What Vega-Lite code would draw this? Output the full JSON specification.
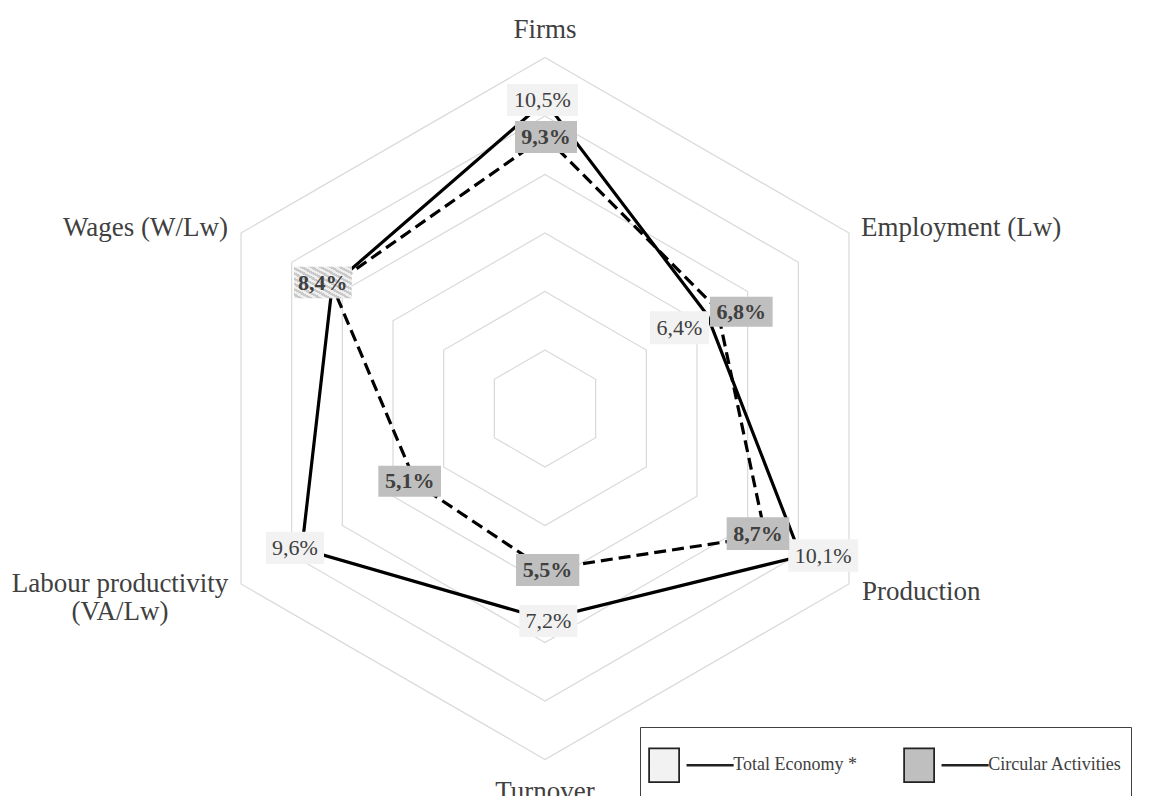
{
  "$schema": "https://vega.github.io/schema/vega-lite/v6.json",
  "width": 1151,
  "height": 796,
  "autosize": {"type": "none"},
  "padding": 0,
  "background": "#ffffff",
  "config": {"view": {"stroke": null}, "font": "Liberation Serif"},
  "datasets": {
    "profile": [
      {"axis": "Firms", "series": "Total Economy *", "value": 10.5},
      {"axis": "Employment (Lw)", "series": "Total Economy *", "value": 6.4},
      {"axis": "Production", "series": "Total Economy *", "value": 10.1},
      {"axis": "Turnover", "series": "Total Economy *", "value": 7.2},
      {"axis": "Labour productivity\n(VA/Lw)", "series": "Total Economy *", "value": 9.6},
      {"axis": "Wages (W/Lw)", "series": "Total Economy *", "value": 8.4},
      {"axis": "Firms", "series": "Circular Activities", "value": 9.3},
      {"axis": "Employment (Lw)", "series": "Circular Activities", "value": 6.8},
      {"axis": "Production", "series": "Circular Activities", "value": 8.7},
      {"axis": "Turnover", "series": "Circular Activities", "value": 5.5},
      {"axis": "Labour productivity\n(VA/Lw)", "series": "Circular Activities", "value": 5.1},
      {"axis": "Wages (W/Lw)", "series": "Circular Activities", "value": 8.4}
    ],
    "rings": [
      {"value": 2, "axis": ["Firms", "Employment (Lw)", "Production", "Turnover", "Labour productivity\n(VA/Lw)", "Wages (W/Lw)"]},
      {"value": 4, "axis": ["Firms", "Employment (Lw)", "Production", "Turnover", "Labour productivity\n(VA/Lw)", "Wages (W/Lw)"]},
      {"value": 6, "axis": ["Firms", "Employment (Lw)", "Production", "Turnover", "Labour productivity\n(VA/Lw)", "Wages (W/Lw)"]},
      {"value": 8, "axis": ["Firms", "Employment (Lw)", "Production", "Turnover", "Labour productivity\n(VA/Lw)", "Wages (W/Lw)"]},
      {"value": 10, "axis": ["Firms", "Employment (Lw)", "Production", "Turnover", "Labour productivity\n(VA/Lw)", "Wages (W/Lw)"]},
      {"value": 12, "axis": ["Firms", "Employment (Lw)", "Production", "Turnover", "Labour productivity\n(VA/Lw)", "Wages (W/Lw)"]}
    ]
  },
  "data": {"name": "profile"},
  "transform": [
    {"calculate": "indexof(['Firms','Employment (Lw)','Production','Turnover','Labour productivity\\n(VA/Lw)','Wages (W/Lw)'], datum.axis)", "as": "idx"},
    {"calculate": "datum.value * sin(datum.idx * PI / 3)", "as": "x"},
    {"calculate": "datum.value * cos(datum.idx * PI / 3)", "as": "y"},
    {"calculate": "replace(format(datum.value, '.1f'), '.', ',') + '%'", "as": "label"}
  ],
  "encoding": {
    "x": {"field": "x", "type": "quantitative", "scale": {"domain": [-18.632, 20.718], "nice": false, "zero": false}, "axis": null},
    "y": {"field": "y", "type": "quantitative", "scale": {"domain": [-13.248, 13.966], "nice": false, "zero": false}, "axis": null}
  },
  "layer": [
    {
      "data": {"name": "rings"},
      "transform": [
        {"flatten": ["axis"]},
        {"calculate": "indexof(['Firms','Employment (Lw)','Production','Turnover','Labour productivity\\n(VA/Lw)','Wages (W/Lw)'], datum.axis)", "as": "idx"},
        {"calculate": "datum.value * sin(datum.idx * PI / 3)", "as": "x"},
        {"calculate": "datum.value * cos(datum.idx * PI / 3)", "as": "y"}
      ],
      "mark": {"type": "line", "interpolate": "linear-closed", "stroke": "#d9d9d9", "strokeWidth": 1.2},
      "encoding": {"detail": {"field": "value", "type": "nominal"}, "order": {"field": "idx", "type": "quantitative"}}
    },
    {
      "data": {"name": "rings"},
      "transform": [
        {"flatten": ["axis"]},
        {"filter": "datum.value === 12"},
        {"calculate": "indexof(['Firms','Employment (Lw)','Production','Turnover','Labour productivity\\n(VA/Lw)','Wages (W/Lw)'], datum.axis)", "as": "idx"},
        {"calculate": "datum.value * sin(datum.idx * PI / 3)", "as": "x"},
        {"calculate": "datum.value * cos(datum.idx * PI / 3)", "as": "y"}
      ],
      "encoding": {"text": {"field": "axis"}},
      "layer": [
        {"transform": [{"filter": "datum.idx === 0"}], "mark": {"type": "text", "align": "center", "baseline": "alphabetic", "dy": -20, "fontSize": 27, "fill": "#404040", "lineBreak": "\n"}},
        {"transform": [{"filter": "datum.idx === 1"}], "mark": {"type": "text", "align": "left", "baseline": "alphabetic", "dx": 12, "dy": 3, "fontSize": 27, "fill": "#404040", "lineBreak": "\n"}},
        {"transform": [{"filter": "datum.idx === 2"}], "mark": {"type": "text", "align": "left", "baseline": "alphabetic", "dx": 13, "dy": 16, "fontSize": 27, "fill": "#404040", "lineBreak": "\n"}},
        {"transform": [{"filter": "datum.idx === 3"}], "mark": {"type": "text", "align": "center", "baseline": "alphabetic", "dy": 40.5, "fontSize": 27, "fill": "#404040", "lineBreak": "\n"}},
        {"transform": [{"filter": "datum.idx === 4"}], "mark": {"type": "text", "align": "center", "baseline": "alphabetic", "dx": -121, "dy": 8, "fontSize": 27, "lineHeight": 28, "fill": "#404040", "lineBreak": "\n"}},
        {"transform": [{"filter": "datum.idx === 5"}], "mark": {"type": "text", "align": "right", "baseline": "alphabetic", "dx": -13, "dy": 3, "fontSize": 27, "fill": "#404040", "lineBreak": "\n"}}
      ]
    },
    {
      "transform": [{"filter": "datum.series === 'Circular Activities'"}],
      "mark": {"type": "line", "interpolate": "linear-closed", "stroke": "#000000", "strokeWidth": 3.2, "strokeDash": [12, 6], "strokeCap": "butt"},
      "encoding": {"order": {"field": "idx", "type": "quantitative"}}
    },
    {
      "transform": [{"filter": "datum.series === 'Total Economy *'"}],
      "mark": {"type": "line", "interpolate": "linear-closed", "stroke": "#000000", "strokeWidth": 3.2},
      "encoding": {"order": {"field": "idx", "type": "quantitative"}}
    },
    {
      "encoding": {
        "fill": {"field": "series", "type": "nominal",
          "scale": {"domain": ["Total Economy *", "Circular Activities"], "range": ["#f2f2f2", "#bfbfbf"]},
          "legend": {
            "orient": "none", "legendX": 640, "legendY": 727, "direction": "horizontal", "title": null,
            "symbolType": "M-1.032,-0.607H0.04V0.607H-1.032ZM0.336,-0.016H1.957V0.016H0.336ZM0,2",
            "symbolSize": 3136, "symbolStrokeColor": "#222222", "symbolStrokeWidth": 1.75,
            "labelFont": "Liberation Serif", "labelFontSize": 18, "labelColor": "#404040",
            "labelOffset": 26.25, "columnPadding": 43, "padding": 9,
            "strokeColor": "#404040", "fillColor": "#ffffff"
          }}
      },
      "layer": [
        {
          "transform": [{"filter": "datum.idx === 0 && datum.series === 'Total Economy *'"}],
          "layer": [
            {"mark": {"type": "point", "shape": "M-38,-17.4H33V14.6H-38Z", "size": 4, "filled": true, "opacity": 1, "strokeWidth": 0}},
            {"mark": {"type": "text", "dx": -2.5, "dy": -1.4, "align": "center", "baseline": "middle", "fontSize": 22}, "encoding": {"text": {"field": "label"}, "fill": {"value": "#404040"}}}
          ]
        },
        {
          "transform": [{"filter": "datum.idx === 1 && datum.series === 'Total Economy *'"}],
          "layer": [
            {"mark": {"type": "point", "shape": "M-57.1,-3.7H1.9V29.3H-57.1Z", "size": 4, "filled": true, "opacity": 1, "strokeWidth": 0}},
            {"mark": {"type": "text", "dx": -27.6, "dy": 12.8, "align": "center", "baseline": "middle", "fontSize": 22}, "encoding": {"text": {"field": "label"}, "fill": {"value": "#404040"}}}
          ]
        },
        {
          "transform": [{"filter": "datum.idx === 2 && datum.series === 'Total Economy *'"}],
          "layer": [
            {"mark": {"type": "point", "shape": "M-12.6,-16.9H57.4V15.5H-12.6Z", "size": 4, "filled": true, "opacity": 1, "strokeWidth": 0}},
            {"mark": {"type": "text", "dx": 22.4, "dy": -0.7, "align": "center", "baseline": "middle", "fontSize": 22}, "encoding": {"text": {"field": "label"}, "fill": {"value": "#404040"}}}
          ]
        },
        {
          "transform": [{"filter": "datum.idx === 3 && datum.series === 'Total Economy *'"}],
          "layer": [
            {"mark": {"type": "point", "shape": "M-25.7,-14.1H32.3V17.9H-25.7Z", "size": 4, "filled": true, "opacity": 1, "strokeWidth": 0}},
            {"mark": {"type": "text", "dx": 3.3, "dy": 1.9, "align": "center", "baseline": "middle", "fontSize": 22}, "encoding": {"text": {"field": "label"}, "fill": {"value": "#404040"}}}
          ]
        },
        {
          "transform": [{"filter": "datum.idx === 4 && datum.series === 'Total Economy *'"}],
          "layer": [
            {"mark": {"type": "point", "shape": "M-35.8,-17.2H22.2V15.1H-35.8Z", "size": 4, "filled": true, "opacity": 1, "strokeWidth": 0}},
            {"mark": {"type": "text", "dx": -6.8, "dy": -1, "align": "center", "baseline": "middle", "fontSize": 22}, "encoding": {"text": {"field": "label"}, "fill": {"value": "#404040"}}}
          ]
        },
        {
          "transform": [{"filter": "datum.idx === 5 && datum.series === 'Total Economy *'"}],
          "layer": [
            {"mark": {"type": "point", "shape": "M-38.2,-18.9H19.5V12.7H-38.2Z", "size": 4, "filled": true, "opacity": 1, "strokeWidth": 0}},
            {"mark": {"type": "text", "dx": -9.35, "dy": -3.1, "align": "center", "baseline": "middle", "fontSize": 22}, "encoding": {"text": {"field": "label"}, "fill": {"value": "#404040"}}}
          ]
        },
        {
          "transform": [{"filter": "datum.idx === 0 && datum.series === 'Circular Activities'"}],
          "layer": [
            {"mark": {"type": "point", "shape": "M-30,-15.5H32V16.5H-30Z", "size": 4, "filled": true, "opacity": 1, "strokeWidth": 0}},
            {"mark": {"type": "text", "dx": 1, "dy": 0.5, "align": "center", "baseline": "middle", "fontSize": 22, "fontWeight": "bold"}, "encoding": {"text": {"field": "label"}, "fill": {"value": "#404040"}}}
          ]
        },
        {
          "transform": [{"filter": "datum.idx === 1 && datum.series === 'Circular Activities'"}],
          "layer": [
            {"mark": {"type": "point", "shape": "M-7.3,-12.3H55.4V17.7H-7.3Z", "size": 4, "filled": true, "opacity": 1, "strokeWidth": 0}},
            {"mark": {"type": "text", "dx": 24, "dy": 2.7, "align": "center", "baseline": "middle", "fontSize": 22, "fontWeight": "bold"}, "encoding": {"text": {"field": "label"}, "fill": {"value": "#404040"}}}
          ]
        },
        {
          "transform": [{"filter": "datum.idx === 2 && datum.series === 'Circular Activities'"}],
          "layer": [
            {"mark": {"type": "point", "shape": "M-38.7,-18.4H23.9V14.3H-38.7Z", "size": 4, "filled": true, "opacity": 1, "strokeWidth": 0}},
            {"mark": {"type": "text", "dx": -7.4, "dy": -2, "align": "center", "baseline": "middle", "fontSize": 22, "fontWeight": "bold"}, "encoding": {"text": {"field": "label"}, "fill": {"value": "#404040"}}}
          ]
        },
        {
          "transform": [{"filter": "datum.idx === 3 && datum.series === 'Circular Activities'"}],
          "layer": [
            {"mark": {"type": "point", "shape": "M-29,-15.4H34.3V16.6H-29Z", "size": 4, "filled": true, "opacity": 1, "strokeWidth": 0}},
            {"mark": {"type": "text", "dx": 2.6, "dy": 0.6, "align": "center", "baseline": "middle", "fontSize": 22, "fontWeight": "bold"}, "encoding": {"text": {"field": "label"}, "fill": {"value": "#404040"}}}
          ]
        },
        {
          "transform": [{"filter": "datum.idx === 4 && datum.series === 'Circular Activities'"}],
          "layer": [
            {"mark": {"type": "point", "shape": "M-37.5,-17.4H25.2V13.6H-37.5Z", "size": 4, "filled": true, "opacity": 1, "strokeWidth": 0}},
            {"mark": {"type": "text", "dx": -6.15, "dy": -1.9, "align": "center", "baseline": "middle", "fontSize": 22, "fontWeight": "bold"}, "encoding": {"text": {"field": "label"}, "fill": {"value": "#404040"}}}
          ]
        },
        {
          "transform": [{"filter": "datum.idx === 5 && datum.series === 'Circular Activities'"}],
          "layer": [
            {"mark": {"type": "point", "shape": "M-38.2,-18.9H19.5V12.7H-38.2Z", "size": 4, "filled": true, "opacity": 1, "strokeWidth": 0},
              "encoding": {"fill": {"value": {"gradient": "linear", "x1": 0, "y1": 1, "x2": 1, "y2": 0, "stops": [
                {"offset": 0, "color": "#efefef"}, {"offset": 0.0417, "color": "#efefef"}, {"offset": 0.0417, "color": "#c9c9c9"}, {"offset": 0.0833, "color": "#c9c9c9"},
                {"offset": 0.0833, "color": "#efefef"}, {"offset": 0.125, "color": "#efefef"}, {"offset": 0.125, "color": "#c9c9c9"}, {"offset": 0.1667, "color": "#c9c9c9"},
                {"offset": 0.1667, "color": "#efefef"}, {"offset": 0.2083, "color": "#efefef"}, {"offset": 0.2083, "color": "#c9c9c9"}, {"offset": 0.25, "color": "#c9c9c9"},
                {"offset": 0.25, "color": "#efefef"}, {"offset": 0.2917, "color": "#efefef"}, {"offset": 0.2917, "color": "#c9c9c9"}, {"offset": 0.3333, "color": "#c9c9c9"},
                {"offset": 0.3333, "color": "#efefef"}, {"offset": 0.375, "color": "#efefef"}, {"offset": 0.375, "color": "#c9c9c9"}, {"offset": 0.4167, "color": "#c9c9c9"},
                {"offset": 0.4167, "color": "#efefef"}, {"offset": 0.4583, "color": "#efefef"}, {"offset": 0.4583, "color": "#c9c9c9"}, {"offset": 0.5, "color": "#c9c9c9"},
                {"offset": 0.5, "color": "#efefef"}, {"offset": 0.5417, "color": "#efefef"}, {"offset": 0.5417, "color": "#c9c9c9"}, {"offset": 0.5833, "color": "#c9c9c9"},
                {"offset": 0.5833, "color": "#efefef"}, {"offset": 0.625, "color": "#efefef"}, {"offset": 0.625, "color": "#c9c9c9"}, {"offset": 0.6667, "color": "#c9c9c9"},
                {"offset": 0.6667, "color": "#efefef"}, {"offset": 0.7083, "color": "#efefef"}, {"offset": 0.7083, "color": "#c9c9c9"}, {"offset": 0.75, "color": "#c9c9c9"},
                {"offset": 0.75, "color": "#efefef"}, {"offset": 0.7917, "color": "#efefef"}, {"offset": 0.7917, "color": "#c9c9c9"}, {"offset": 0.8333, "color": "#c9c9c9"},
                {"offset": 0.8333, "color": "#efefef"}, {"offset": 0.875, "color": "#efefef"}, {"offset": 0.875, "color": "#c9c9c9"}, {"offset": 0.9167, "color": "#c9c9c9"},
                {"offset": 0.9167, "color": "#efefef"}, {"offset": 0.9583, "color": "#efefef"}, {"offset": 0.9583, "color": "#c9c9c9"}, {"offset": 1, "color": "#c9c9c9"}
              ]}}}},
            {"mark": {"type": "text", "dx": -9.35, "dy": -3.1, "align": "center", "baseline": "middle", "fontSize": 22, "fontWeight": "bold"}, "encoding": {"text": {"field": "label"}, "fill": {"value": "#404040"}}}
          ]
        }
      ]
    }
  ]
}
